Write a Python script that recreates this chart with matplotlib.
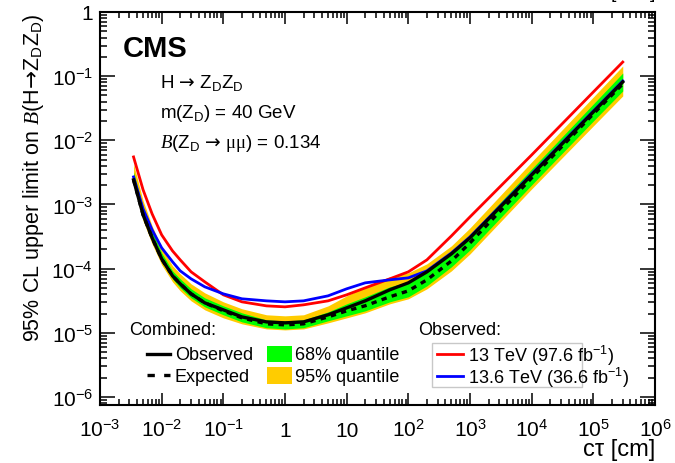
import numpy as np
import matplotlib
matplotlib.use('Agg')
import matplotlib.pyplot as plt
from matplotlib.lines import Line2D
from matplotlib.patches import Rectangle
from matplotlib.ticker import LogLocator, NullFormatter

plt.rcParams['font.family'] = ['Liberation Sans', 'DejaVu Sans']
plt.rcParams['mathtext.fontset'] = 'custom'
plt.rcParams['mathtext.rm'] = 'Liberation Sans'
plt.rcParams['mathtext.it'] = 'Liberation Sans:italic'
plt.rcParams['mathtext.bf'] = 'Liberation Sans:bold'
plt.rcParams['mathtext.cal'] = 'Liberation Serif:italic'
plt.rcParams['mathtext.sf'] = 'Liberation Serif'
plt.rcParams['mathtext.tt'] = 'DejaVu Sans'   # длинная стрелка

# данные
ctau = [3.5e-3, 5e-3, 7e-3, 1e-2, 1.5e-2, 2e-2, 3e-2, 5e-2, 0.1, 0.2, 0.5, 1,
        2, 5, 10, 20, 50, 100, 200, 500, 1e3, 1e4, 1e5, 3e5]

obs_comb = [2.42e-3, 6.89e-4, 3.02e-4, 1.42e-4, 7.73e-5, 5.80e-5, 4.05e-5, 2.93e-5,
            2.28e-5, 1.77e-5, 1.48e-5, 1.43e-5, 1.48e-5, 1.91e-5, 2.45e-5, 3.15e-5,
            4.68e-5, 6.01e-5, 8.91e-5, 1.70e-4, 3.02e-4, 2.89e-3, 2.77e-2, 8.12e-2]
exp_comb = [2.42e-3, 6.89e-4, 3.02e-4, 1.42e-4, 7.73e-5, 5.80e-5, 4.05e-5, 2.93e-5,
            2.20e-5, 1.71e-5, 1.38e-5, 1.33e-5, 1.38e-5, 1.77e-5, 2.20e-5, 2.64e-5,
            3.64e-5, 4.51e-5, 6.69e-5, 1.32e-4, 2.52e-4, 2.60e-3, 2.58e-2, 7.56e-2]
band68_lo = [2.17e-3, 6.18e-4, 2.71e-4, 1.28e-4, 6.94e-5, 5.02e-5, 3.51e-5, 2.54e-5,
             1.91e-5, 1.48e-5, 1.20e-5, 1.15e-5, 1.20e-5, 1.54e-5, 1.84e-5, 2.20e-5,
             3.04e-5, 3.64e-5, 5.40e-5, 1.07e-4, 1.96e-4, 2.02e-3, 2.00e-2, 5.88e-2]
band68_hi = [3.22e-3, 8.85e-4, 3.74e-4, 1.76e-4, 9.24e-5, 6.94e-5, 4.85e-5, 3.51e-5,
             2.63e-5, 2.05e-5, 1.59e-5, 1.54e-5, 1.59e-5, 2.12e-5, 2.83e-5, 3.64e-5,
             5.21e-5, 6.23e-5, 8.92e-5, 1.76e-4, 3.36e-4, 3.59e-3, 3.69e-2, 1.12e-1]
band95_lo = [1.95e-3, 5.55e-4, 2.43e-4, 1.15e-4, 6.23e-5, 4.51e-5, 3.15e-5, 2.28e-5,
             1.71e-5, 1.38e-5, 1.15e-5, 1.11e-5, 1.15e-5, 1.43e-5, 1.71e-5, 2.05e-5,
             2.83e-5, 3.39e-5, 4.85e-5, 9.24e-5, 1.70e-4, 1.75e-3, 1.68e-2, 4.92e-2]
band95_hi = [4.29e-3, 1.14e-3, 4.64e-4, 2.11e-4, 1.11e-4, 8.30e-5, 5.80e-5, 4.20e-5,
             3.04e-5, 2.37e-5, 1.91e-5, 1.84e-5, 1.91e-5, 2.63e-5, 3.77e-5, 5.21e-5,
             7.45e-5, 8.60e-5, 1.19e-4, 2.27e-4, 4.32e-4, 4.61e-3, 4.74e-2, 1.44e-1]
obs_13 = [5.51e-3, 1.69e-3, 7.14e-4, 3.36e-4, 1.89e-4, 1.37e-4, 8.92e-5, 6.23e-5,
          3.91e-5, 3.04e-5, 2.63e-5, 2.54e-5, 2.73e-5, 3.15e-5, 3.91e-5, 5.02e-5,
          6.94e-5, 8.92e-5, 1.37e-4, 3.24e-4, 6.41e-4, 5.92e-3, 5.67e-2, 1.66e-1]
obs_136 = [2.69e-3, 8.54e-4, 4.02e-4, 2.11e-4, 1.28e-4, 9.24e-5, 6.94e-5, 5.21e-5,
           4.05e-5, 3.39e-5, 3.15e-5, 3.04e-5, 3.15e-5, 3.77e-5, 4.85e-5, 6.01e-5,
           6.69e-5, 7.19e-5, 9.24e-5, 1.76e-4, 3.13e-4, 3.00e-3, 2.87e-2, 8.42e-2]

xticks = [1e-3, 1e-2, 1e-1, 1, 10, 1e2, 1e3, 1e4, 1e5, 1e6]
xtick_labels = ['$10^{-3}$', '$10^{-2}$', '$10^{-1}$', '1', '10', '$10^{2}$',
                '$10^{3}$', '$10^{4}$', '$10^{5}$', '$10^{6}$']
yticks = [1e-6, 1e-5, 1e-4, 1e-3, 1e-2, 1e-1, 1]
ytick_labels = ['$10^{-6}$', '$10^{-5}$', '$10^{-4}$', '$10^{-3}$', '$10^{-2}$',
                '$10^{-1}$', '1']

W, H = 675, 464
ARR = '$\\mathtt{→}$'


def fx(x):
    return x / W


def fy(y):
    return 1 - y / H


fig = plt.figure(figsize=(6.75, 4.64), dpi=100)
ax = fig.add_axes([fx(100), fy(406), 555 / W, 393 / H])

# полосы и кривые
ax.fill_between(ctau, band95_lo, band95_hi, color='#ffcc00', lw=0)
ax.fill_between(ctau, band68_lo, band68_hi, color='#00ff00', lw=0)
ax.plot(ctau, obs_13, color='#ff0000', lw=2, solid_joinstyle='round')
ax.plot(ctau, obs_136, color='#0000ff', lw=2, solid_joinstyle='round')
ax.plot(ctau, obs_comb, color='k', lw=2.4, solid_joinstyle='round')
ax.plot(ctau, exp_comb, color='k', lw=2.4, ls=(0, (1.6, 1.6)))

ax.set_xscale('log')
ax.set_yscale('log')
ax.set_xlim(1e-3, 1e6)
ax.set_ylim(7.5e-7, 1)

ax.set_xticks(xticks, xtick_labels)
ax.set_yticks(yticks, ytick_labels)
ax.xaxis.set_minor_locator(LogLocator(base=10, subs=np.arange(2, 10), numticks=100))
ax.yaxis.set_minor_locator(LogLocator(base=10, subs=np.arange(2, 10), numticks=100))
ax.xaxis.set_minor_formatter(NullFormatter())
ax.yaxis.set_minor_formatter(NullFormatter())

ax.tick_params(which='both', direction='in', top=True, right=True, width=1.1)
ax.tick_params(axis='x', which='major', length=8.5, pad=22, labelsize=15)
ax.tick_params(axis='x', which='minor', length=4.3)
ax.tick_params(axis='y', which='major', length=10.8, pad=5, labelsize=15)
ax.tick_params(axis='y', which='minor', length=5)
for lab in ax.get_xticklabels():
    lab.set_verticalalignment('baseline')
for s in ax.spines.values():
    s.set_linewidth(1.5)

# подписи осей
fig.text(fx(34), fy(13), '95% CL upper limit on $\\mathcal{B}$(H' + ARR + '$\\mathrm{Z_{D}Z_{D}}$)',
         rotation=90, ha='center', va='top', fontsize=15.5)
fig.text(fx(655), fy(456), 'cτ [cm]', ha='right', va='baseline', fontsize=17)
fig.text(fx(611), 1 + 2 / H, '[', fontsize=14, va='baseline')
fig.text(fx(650), 1 + 2 / H, ']', fontsize=14, va='baseline')

# текст на графике
fig.text(fx(123), fy(57), 'CMS', fontsize=21, fontweight='bold', va='baseline')
fig.text(fx(160), fy(88), 'H ' + ARR + ' $\\mathrm{Z_{D}Z_{D}}$', fontsize=13.5, va='baseline')
fig.text(fx(160), fy(118), 'm($\\mathrm{Z_{D}}$) = 40 GeV', fontsize=13.5, va='baseline')
fig.text(fx(160), fy(148), '$\\mathcal{B}$($\\mathrm{Z_{D}}$ ' + ARR + ' $\\mathsf{\\mu\\mu}$) = 0.134',
         fontsize=13.5, va='baseline')

# легенда "Combined"
fig.text(fx(129), fy(335), 'Combined:', fontsize=13, va='baseline')
fig.add_artist(Line2D([fx(147), fx(170)], [fy(355)] * 2, transform=fig.transFigure,
                      color='k', lw=2.4))
fig.add_artist(Line2D([fx(147), fx(170)], [fy(376)] * 2, transform=fig.transFigure,
                      color='k', lw=2.4, ls=(0, (2.2, 2.8))))
fig.text(fx(175), fy(360), 'Observed', fontsize=13, va='baseline')
fig.text(fx(175), fy(382), 'Expected', fontsize=13, va='baseline')
fig.add_artist(Rectangle((fx(267), fy(363)), 25 / W, 16 / H, transform=fig.transFigure,
                         color='#00ff00', lw=0))
fig.add_artist(Rectangle((fx(267), fy(385)), 25 / W, 17 / H, transform=fig.transFigure,
                         color='#ffcc00', lw=0))
fig.text(fx(295), fy(360), '68% quantile', fontsize=13, va='baseline')
fig.text(fx(295), fy(382), '95% quantile', fontsize=13, va='baseline')

# легенда "Observed"
fig.text(fx(418), fy(335), 'Observed:', fontsize=13, va='baseline')
fig.add_artist(Rectangle((fx(432), fy(388)), 150 / W, 44 / H, transform=fig.transFigure,
                         fill=False, edgecolor='#c8c8c8', lw=1))
fig.add_artist(Line2D([fx(437), fx(463)], [fy(355)] * 2, transform=fig.transFigure,
                      color='#ff0000', lw=2))
fig.add_artist(Line2D([fx(437), fx(463)], [fy(377)] * 2, transform=fig.transFigure,
                      color='#0000ff', lw=2))
fig.text(fx(468), fy(362), '13 TeV (97.6 fb$^{-1}$)', fontsize=13, va='baseline')
fig.text(fx(468), fy(384), '13.6 TeV (36.6 fb$^{-1}$)', fontsize=13, va='baseline')

fig.savefig('out.png', dpi=100)
